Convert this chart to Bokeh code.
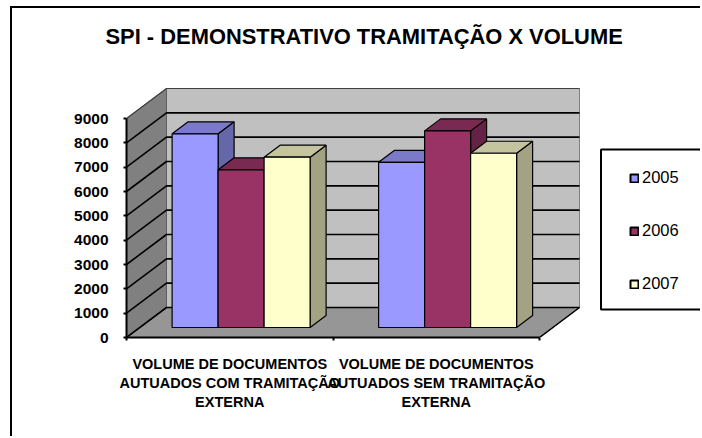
from bokeh.plotting import figure
from bokeh.embed import file_html
from bokeh.resources import INLINE
from bokeh.models import (Range1d, FixedTicker, Legend, LegendItem, Title, AllLabels, BoxAnnotation)

categories = ["VOLUME DE DOCUMENTOS\nAUTUADOS COM TRAMITAÇÃO\nEXTERNA",
              "VOLUME DE DOCUMENTOS\nAUTUADOS SEM TRAMITAÇÃO\nEXTERNA"]
years = ["2005", "2006", "2007"]
v2005 = [7960, 6790]
v2006 = [6480, 8080]
v2007 = [7000, 7160]
y_ticks = [0, 1000, 2000, 3000, 4000, 5000, 6000, 7000, 8000, 9000]
title_text = "SPI - DEMONSTRATIVO TRAMITAÇÃO X VOLUME"

series = [v2005, v2006, v2007]
front = ["#9999FF", "#993366", "#FFFFCC"]
top = ["#7A7AC8", "#7A2952", "#C4C49E"]
side = ["#6666AA", "#662244", "#A3A383"]

MX, MY, BORDER = 10, 6, 2       # offset and border of the chart's frame on the page
W, H = 702 - MX - BORDER, 438 - MY - BORDER
LEFT, BOTTOM, TOP = 126 - MX - BORDER, 101, 60 - MY - BORDER
PX_X = 206.5                    # pixels per category
PX_Y = 219 / 9000               # pixels per value unit
dxu = lambda px: px / PX_X
dyu = lambda px: px / PX_Y
WALL_DX, WALL_DY = dxu(40), dyu(30)
BAR_DX, BAR_DY = dxu(16), dyu(12)
BAR_W = dxu(46)
BAR_X0 = dxu(45.6)
BASE = dyu(10)
YMAX = y_ticks[-1]

p = figure(width=W, height=H, output_backend="svg", toolbar_location=None,
           x_range=Range1d(0, (W - LEFT) / PX_X),
           y_range=Range1d(0, (H - BOTTOM - TOP) / PX_Y),
           min_border_left=LEFT, min_border_bottom=BOTTOM,
           min_border_right=0, min_border_top=TOP,
           outline_line_color=None, background_fill_color="white",
           border_fill_color="white",
           margin=(MY, 0, 0, MX),
           styles={"border-left": "2px solid black", "border-top": "2px solid black"})
p.grid.visible = False

n = len(categories)
# back wall
p.patch([WALL_DX, n + WALL_DX, n + WALL_DX, WALL_DX],
        [WALL_DY, WALL_DY, YMAX + WALL_DY, YMAX + WALL_DY],
        fill_color="#C0C0C0", line_color="#808080", line_width=1)
# side wall
p.patch([0, WALL_DX, WALL_DX, 0], [0, WALL_DY, YMAX + WALL_DY, YMAX],
        fill_color="#808080", line_color="#606060", line_width=1)
# floor
p.patch([0, n, n + WALL_DX, WALL_DX], [0, 0, WALL_DY, WALL_DY],
        fill_color="#969696", line_color="#606060", line_width=1)
p.line([n, n + WALL_DX], [0, WALL_DY], line_color="black", line_width=1.5)
# gridlines
for t in y_ticks:
    if t < YMAX:
        p.line([0, WALL_DX, n + WALL_DX], [t, t + WALL_DY, t + WALL_DY],
               line_color="black", line_width=1.6)
    else:
        p.line([0, WALL_DX, n + WALL_DX], [t, t + WALL_DY, t + WALL_DY],
               line_color="#404040", line_width=1.2)

# bars
legend_items = []
for s, vals in enumerate(series):
    fx, fy, tx, ty, sx, sy = [], [], [], [], [], []
    for c, v in enumerate(vals):
        x0 = c + BAR_X0 + s * BAR_W
        x1 = x0 + BAR_W
        y0 = BASE
        y1 = BASE + v
        fx.append([x0, x1, x1, x0]); fy.append([y0, y0, y1, y1])
        tx.append([x0, x1, x1 + BAR_DX, x0 + BAR_DX]); ty.append([y1, y1, y1 + BAR_DY, y1 + BAR_DY])
        sx.append([x1, x1 + BAR_DX, x1 + BAR_DX, x1]); sy.append([y0, y0 + BAR_DY, y1 + BAR_DY, y1])
    p.patches(sx, sy, fill_color=side[s], line_color="black", line_width=1.2)
    p.patches(tx, ty, fill_color=top[s], line_color="black", line_width=1.2)
    p.patches(fx, fy, fill_color=front[s], line_color="black", line_width=1.2)
    swatch = p.patches([[]], [[]], fill_color=front[s], line_color="black", line_width=2)
    legend_items.append(LegendItem(label=years[s], renderers=[swatch]))

# axes
yax = p.yaxis[0]
yax.ticker = FixedTicker(ticks=y_ticks)
yax.bounds = (0, YMAX)
yax.axis_line_color = "black"; yax.axis_line_width = 2
yax.major_tick_line_color = "black"; yax.major_tick_line_width = 2
yax.major_tick_in = 0; yax.major_tick_out = 3
yax.minor_tick_line_color = None
yax.major_label_standoff = 15
yax.major_label_text_font = "Liberation Sans"
yax.major_label_text_font_style = "bold"
yax.major_label_text_font_size = "15.5px"
yax.major_label_text_color = "black"

xax = p.xaxis[0]
xax.ticker = FixedTicker(ticks=[i + 0.5 for i in range(n)], minor_ticks=list(range(n + 1)))
xax.bounds = (0, n)
xax.major_label_overrides = {i + 0.5: c for i, c in enumerate(categories)}
xax.major_label_policy = AllLabels()
xax.axis_line_color = "black"; xax.axis_line_width = 2
xax.major_tick_line_color = None
xax.major_tick_in = 0; xax.major_tick_out = 3
xax.minor_tick_line_color = "black"; xax.minor_tick_line_width = 2
xax.minor_tick_in = 0; xax.minor_tick_out = 3
xax.major_label_standoff = 15
xax.major_label_text_font = "Liberation Sans"
xax.major_label_text_font_style = "bold"
xax.major_label_text_font_size = "14.5px"
xax.major_label_text_color = "black"

# legend box and legend (the box runs off the right edge of the page)
p.add_layout(BoxAnnotation(left=dxu(474.5), right=dxu(620), bottom=dyu(28), top=dyu(188),
                           fill_color="white", fill_alpha=1,
                           line_color="black", line_width=2, line_alpha=1))
legend = Legend(items=legend_items, location=(503, 44), orientation="vertical",
                border_line_color=None, background_fill_alpha=0,
                glyph_width=10, glyph_height=10, label_standoff=3,
                label_text_font="Liberation Sans", label_text_font_size="16.5px",
                label_text_color="black", padding=0, spacing=34, margin=0)
p.add_layout(legend, "center")

# title
p.add_layout(Title(text=title_text, align="left", offset=-21, standoff=24,
                   text_font="Liberation Sans", text_font_style="bold",
                   text_font_size="21.9px", text_color="black"), "above")

open("out.html", "w").write(file_html(p, INLINE))
